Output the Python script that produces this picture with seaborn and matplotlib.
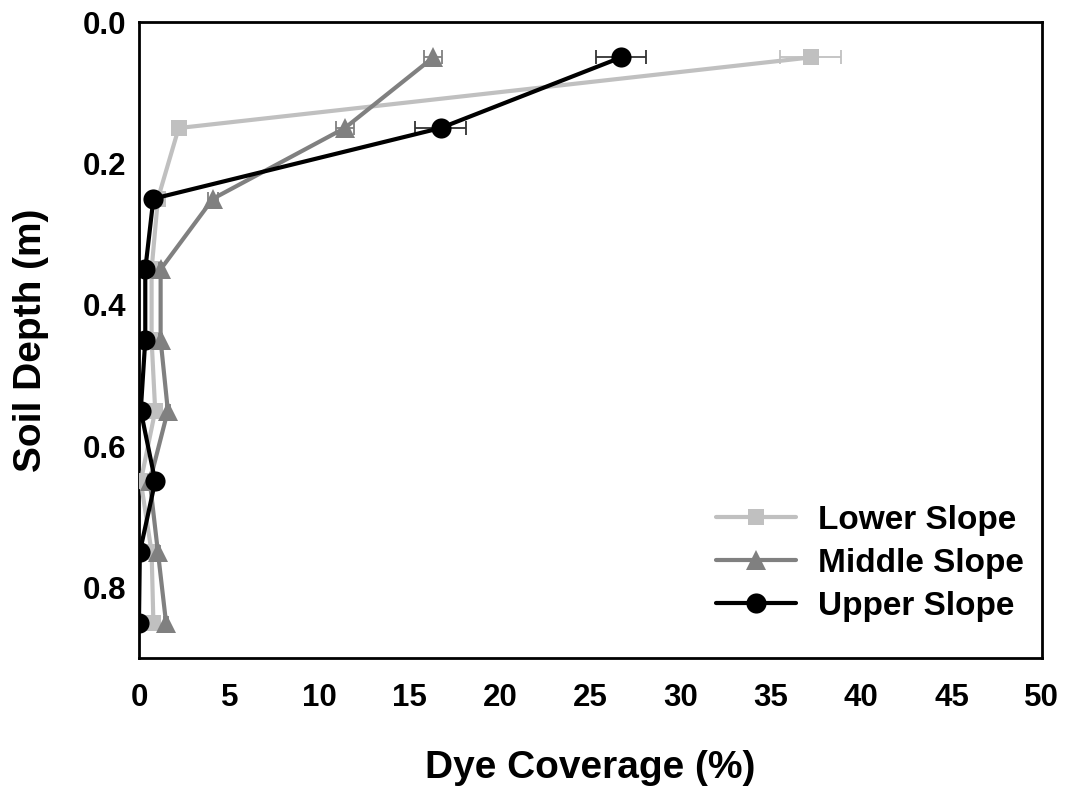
import numpy as np
import pandas as pd
import seaborn as sns
import matplotlib
matplotlib.use("Agg")
import matplotlib.pyplot as plt

depth = [0.05, 0.15, 0.25, 0.35, 0.45, 0.55, 0.65, 0.75, 0.85]
lower = [37.2, 2.2, 1.05, 0.7, 0.7, 0.9, 0.1, 0.7, 0.8]
lower_err = [1.7, 0.2, 0.2, 0.1, 0.1, 0.2, 0.1, 0.1, 0.1]
middle = [16.3, 11.4, 4.1, 1.2, 1.2, 1.6, 0.6, 1.05, 1.5]
middle_err = [0.5, 0.5, 0.3, 0.1, 0.1, 0.1, 0.1, 0.1, 0.1]
upper = [26.7, 16.7, 0.8, 0.35, 0.35, 0.1, 0.9, 0.05, 0.0]
upper_err = [1.4, 1.4, 0.1, 0.1, 0.1, 0.1, 0.3, 0.05, 0.05]
series_names = ["Lower Slope", "Middle Slope", "Upper Slope"]
xticks = [0, 5, 10, 15, 20, 25, 30, 35, 40, 45, 50]
yticks = [0.0, 0.2, 0.4, 0.6, 0.8]

sns.set_style("white")
plt.rcParams['font.family'] = ['Liberation Sans', 'DejaVu Sans']
plt.rcParams['font.weight'] = 'bold'
for k in ['text.color', 'axes.labelcolor', 'xtick.color', 'ytick.color', 'axes.edgecolor']:
    plt.rcParams[k] = 'black'

fig = plt.figure(figsize=(10.73, 7.88), dpi=100)
ax = fig.add_axes([0.1295, 0.165, 0.8415, 0.807])

styles = {
    "Lower Slope": dict(color="#c0c0c0", marker="s", ms=11.5),
    "Middle Slope": dict(color="#808080", marker="^", ms=14),
    "Upper Slope": dict(color="#000000", marker="o", ms=14.5),
}
vals = {"Lower Slope": (lower, lower_err), "Middle Slope": (middle, middle_err),
        "Upper Slope": (upper, upper_err)}

for i, name in enumerate(series_names):
    v, e = vals[name]
    st = styles[name]
    df = pd.DataFrame({"cov": v, "depth": depth})
    ax.errorbar(v, depth, xerr=e, fmt="none", ecolor=st["color"] if name != "Upper Slope" else "#333333",
                elinewidth=1.3, capsize=5, capthick=1.3, zorder=2 + i)
    sns.lineplot(data=df, x="cov", y="depth", sort=False, estimator=None, ax=ax,
                 color=st["color"], marker=st["marker"], markersize=st["ms"],
                 markeredgecolor=st["color"], markeredgewidth=0, linewidth=3,
                 label=name, zorder=3 + i)

ax.set_xlim(0, 50)
ax.set_ylim(0.9, 0.0)
ax.set_xticks(xticks)
ax.set_yticks(yticks)
ax.set_xticklabels([str(t) for t in xticks])
ax.set_yticklabels([f"{t:.1f}" for t in yticks])
ax.tick_params(axis="both", direction="in", length=6, width=2, labelsize=22.5)
ax.tick_params(axis="x", pad=18)
ax.tick_params(axis="y", pad=9)
for lab in ax.get_xticklabels() + ax.get_yticklabels():
    lab.set_fontweight("bold")
for s in ax.spines.values():
    s.set_linewidth(2)
    s.set_color("black")

ax.set_xlabel("Dye Coverage (%)", fontsize=28, fontweight="bold", labelpad=27)
ax.set_ylabel("Soil Depth (m)", fontsize=28, fontweight="bold", labelpad=24)

leg = ax.legend(loc="lower right", frameon=False, fontsize=24, handlelength=2.4,
                handletextpad=0.65, labelspacing=0.36, borderpad=0, borderaxespad=0,
                bbox_to_anchor=(0.98, 0.057))
for t in leg.get_texts():
    t.set_fontweight("bold")

fig.savefig("out.png", dpi=100)
